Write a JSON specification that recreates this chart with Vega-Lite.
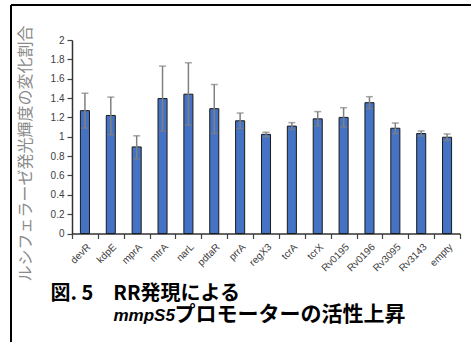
{
  "$schema": "https://vega.github.io/schema/vega-lite/v6.json",
  "width": 460,
  "height": 337,
  "autosize": {"type": "none"},
  "padding": {"left": 11, "top": 5, "right": 0, "bottom": 0},
  "background": "#ffffff",
  "config": {
    "view": {"stroke": "#000000", "strokeWidth": 2, "strokeDash": [460, 797, 337, 0]},
    "axis": {"grid": false}
  },
  "data": {
    "values": [
      {"gene": "devR", "value": 1.27, "lo": 1.09, "hi": 1.45},
      {"gene": "kdpE", "value": 1.22, "lo": 1.02, "hi": 1.41},
      {"gene": "mprA", "value": 0.895, "lo": 0.77, "hi": 1.01},
      {"gene": "mtrA", "value": 1.395, "lo": 1.06, "hi": 1.73},
      {"gene": "narL", "value": 1.44, "lo": 1.12, "hi": 1.765},
      {"gene": "pdtaR", "value": 1.29, "lo": 1.035, "hi": 1.54},
      {"gene": "prrA", "value": 1.165, "lo": 1.085, "hi": 1.245},
      {"gene": "regX3", "value": 1.025, "lo": 1.0, "hi": 1.047},
      {"gene": "tcrA", "value": 1.11, "lo": 1.075, "hi": 1.146},
      {"gene": "tcrX", "value": 1.185, "lo": 1.11, "hi": 1.26},
      {"gene": "Rv0195", "value": 1.2, "lo": 1.1, "hi": 1.3},
      {"gene": "Rv0196", "value": 1.352, "lo": 1.29, "hi": 1.414},
      {"gene": "Rv3095", "value": 1.088, "lo": 1.033, "hi": 1.142},
      {"gene": "Rv3143", "value": 1.033, "lo": 1.007, "hi": 1.06},
      {"gene": "empty", "value": 0.995, "lo": 0.961, "hi": 1.029}
    ]
  },
  "resolve": {"axis": {"x": "independent", "y": "independent"}},
  "layer": [
    {
      "mark": {"type": "bar", "fill": "#4472C4", "stroke": "#1a1a1a", "strokeWidth": 1, "width": {"band": 0.35}},
      "encoding": {
        "x": {
          "field": "gene", "type": "nominal", "sort": null,
          "scale": {"type": "band", "range": [61, 449], "paddingInner": 0, "paddingOuter": 0},
          "axis": {
            "orient": "bottom", "offset": -108.5,
            "labelAngle": -45, "labelFont": "Liberation Sans", "labelFontSize": 10, "labelColor": "#404040",
            "labelPadding": 3,
            "tickBand": "extent", "tickSize": 5, "tickColor": "#444444", "tickWidth": 1.2,
            "domainColor": "#333333", "domainWidth": 1.5,
            "title": "mmpS5", "titleFont": "Liberation Sans", "titleFontSize": 17, "titleFontWeight": "bold",
            "titleFontStyle": "italic", "titleColor": "#000000",
            "titleX": 102, "titleY": 86.5, "titleAlign": "left", "titleBaseline": "alphabetic", "titleAngle": 0
          }
        },
        "y": {
          "field": "value", "type": "quantitative",
          "scale": {"domain": [0, 2], "range": [228.5, 35], "nice": false, "zero": true},
          "axis": {
            "orient": "left", "offset": -61,
            "values": [0, 0.2, 0.4, 0.6, 0.8, 1, 1.2, 1.4, 1.6, 1.8, 2], "format": "~g",
            "labelFont": "Liberation Sans", "labelFontSize": 10, "labelColor": "#404040", "labelPadding": 3,
            "tickSize": 5, "tickColor": "#444444", "tickWidth": 1.2,
            "domainColor": "#333333", "domainWidth": 1.5,
            "title": "ルシフェラーゼ発光輝度の変化割合", "titleFont": "Noto Sans CJK JP", "titleFontSize": 16,
            "titleFontWeight": "normal", "titleColor": "#8a8a8a",
            "titleX": -47, "titleY": 148, "titleAlign": "center", "titleBaseline": "middle", "titleAngle": -90
          }
        }
      }
    },
    {
      "mark": {"type": "rule", "color": "#808080", "strokeWidth": 1.5},
      "encoding": {
        "x": {
          "field": "gene", "type": "nominal", "sort": null,
          "scale": {"type": "band", "range": [61, 449], "paddingInner": 0, "paddingOuter": 0},
          "axis": {
            "orient": "top", "domain": false, "ticks": false, "labels": false,
            "title": "プロモーターの活性上昇", "titleFont": "Noto Sans CJK JP", "titleFontSize": 21,
            "titleFontWeight": "bold", "titleColor": "#000000",
            "titleX": 163, "titleY": 315, "titleAlign": "left", "titleBaseline": "alphabetic", "titleAngle": 0
          }
        },
        "y": {
          "field": "lo", "type": "quantitative",
          "scale": {"domain": [0, 2], "range": [228.5, 35], "nice": false, "zero": true},
          "axis": {
            "orient": "right", "domain": false, "ticks": false, "labels": false,
            "title": "図. 5　RR発現による", "titleFont": "Noto Sans CJK JP", "titleFontSize": 20,
            "titleFontWeight": "bold", "titleColor": "#000000",
            "titleX": -421, "titleY": 294, "titleAlign": "left", "titleBaseline": "alphabetic", "titleAngle": 0
          }
        },
        "y2": {"field": "hi"}
      }
    },
    {
      "mark": {"type": "tick", "color": "#808080", "size": 7, "thickness": 1.5},
      "encoding": {
        "x": {"field": "gene", "type": "nominal", "sort": null,
          "scale": {"type": "band", "range": [61, 449], "paddingInner": 0, "paddingOuter": 0}, "axis": null},
        "y": {"field": "hi", "type": "quantitative",
          "scale": {"domain": [0, 2], "range": [228.5, 35], "nice": false, "zero": true}, "axis": null}
      }
    },
    {
      "mark": {"type": "tick", "color": "#808080", "size": 7, "thickness": 1.5},
      "encoding": {
        "x": {"field": "gene", "type": "nominal", "sort": null,
          "scale": {"type": "band", "range": [61, 449], "paddingInner": 0, "paddingOuter": 0}, "axis": null},
        "y": {"field": "lo", "type": "quantitative",
          "scale": {"domain": [0, 2], "range": [228.5, 35], "nice": false, "zero": true}, "axis": null}
      }
    }
  ]
}
